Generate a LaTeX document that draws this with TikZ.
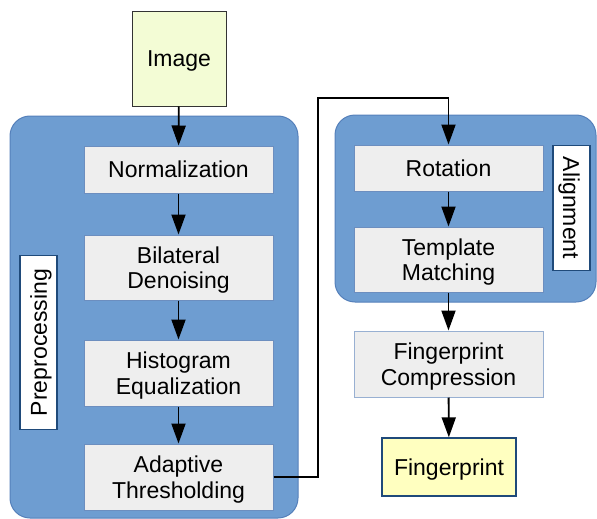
\documentclass[tikz,border=0pt]{standalone}
\usepackage{fontspec}
\setmainfont{Liberation Sans}
\usetikzlibrary{arrows.meta}
\definecolor{groupfill}{HTML}{6E9DD1}
\definecolor{groupline}{HTML}{5580BA}
\definecolor{stepfill}{HTML}{EEEEEE}
\definecolor{stepline}{HTML}{6C8EBF}
\definecolor{labelline}{HTML}{1F4A7A}
\definecolor{imgfill}{HTML}{F3FCD5}
\definecolor{fpfill}{HTML}{FFFFC0}
\begin{document}
\begin{tikzpicture}[x=1pt,y=-1pt,
  every node/.style={font=\fontsize{23}{25.5}\selectfont, align=center, inner sep=0pt, text depth=0pt},
  group/.style={fill=groupfill, draw=groupline, line width=1pt, rounded corners=20pt},
  stepbox/.style={fill=stepfill, draw=stepline, line width=1pt, minimum width=189pt},
  tagbox/.style={fill=white, draw=labelline, line width=1.4pt},
  flow/.style={line width=1.9pt, -{Triangle[length=20pt,width=14pt]}},
  wire/.style={line width=1.9pt}]
\useasboundingbox (0,0) rectangle (597,519);

% groups
\draw[group] (10,116) rectangle (298,518);
\draw[group] (335,115) rectangle (596,302);

% input
\node[fill=imgfill, draw=black!80, line width=1pt, minimum width=94pt, minimum height=94pt] (img) at (179,59) {Image};

% preprocessing steps
\node[stepbox, minimum height=47pt] (norm) at (178.5,169.5) {Normalization};
\node[stepbox, minimum height=65pt] (bil) at (178.5,267.5) {Bilateral\\Denoising};
\node[stepbox, minimum height=66pt] (hist) at (178.5,373) {Histogram\\Equalization};
\node[stepbox, minimum height=66pt] (adapt) at (178.5,477) {Adaptive\\Thresholding};
\node[tagbox, rotate=90, minimum width=174pt, minimum height=37pt] (pre) at (38.5,342.5) {Preprocessing};

% alignment steps
\node[stepbox, minimum height=46pt] (rot) at (448.5,168) {Rotation};
\node[stepbox, minimum height=65pt] (tmpl) at (448.5,259.5) {Template\\Matching};
\node[tagbox, rotate=-90, minimum width=125pt, minimum height=37pt] (ali) at (571.5,208) {Alignment};

% output
\node[stepbox, draw=stepline!70, minimum height=66pt] (comp) at (448.5,364) {Fingerprint\\Compression};
\node[fill=fpfill, draw=labelline, line width=1.4pt, minimum width=134pt, minimum height=58pt] (fp) at (449,467) {Fingerprint};

% connectors
\draw[flow] (img) -- (norm);
\draw[flow] (norm) -- (bil);
\draw[flow] (bil) -- (hist);
\draw[flow] (hist) -- (adapt);
\coordinate (bend) at (318,98);
\draw[wire] (adapt.east) -- (adapt.east -| bend) -- (bend) -- (bend -| rot.north);
\draw[flow] (bend -| rot.north) -- (rot.north);
\draw[flow] (rot) -- (tmpl);
\draw[flow] (tmpl) -- (comp);
\draw[flow] (comp) -- (fp);
\end{tikzpicture}
\end{document}
